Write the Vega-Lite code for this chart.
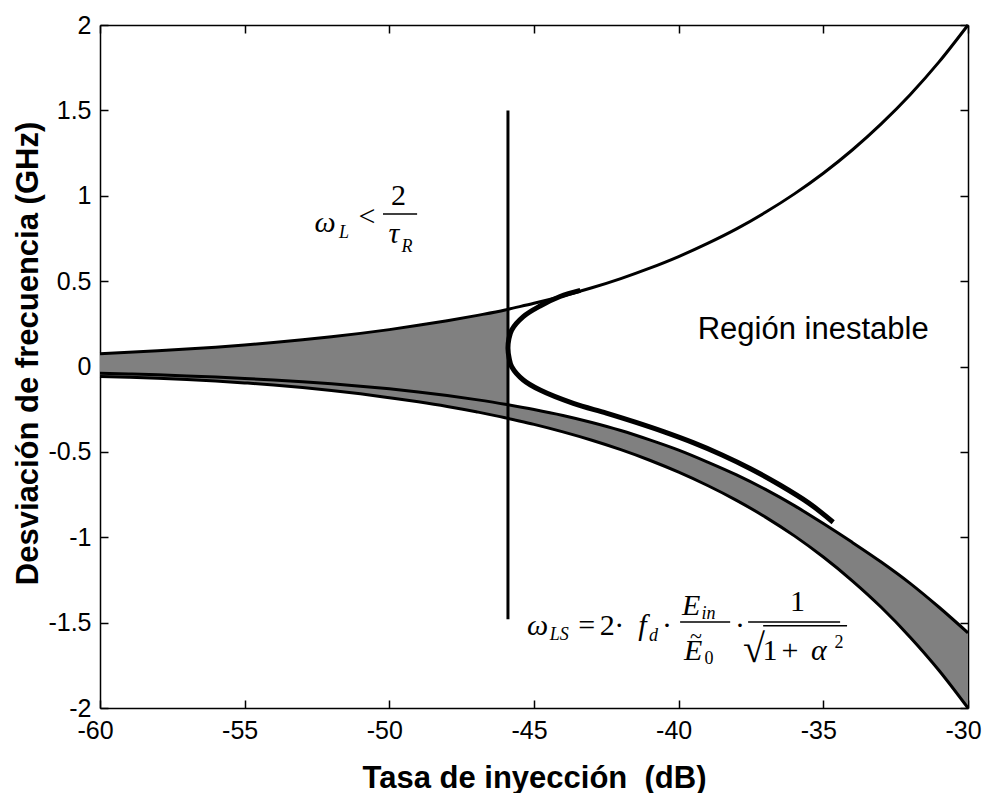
{
  "$schema": "https://vega.github.io/schema/vega-lite/v6.json",
  "width": 868,
  "height": 683,
  "autosize": {"type": "none"},
  "padding": {"left": 100, "top": 25, "right": 17, "bottom": 85},
  "background": "white",
  "config": {
    "view": {"stroke": null},
    "axis": {
      "grid": false,
      "domainColor": "#000",
      "domainWidth": 1.5,
      "tickColor": "#000",
      "tickWidth": 1.5,
      "tickSize": -8,
      "labelColor": "#000",
      "labelFont": "Liberation Sans",
      "labelFontSize": 25,
      "labelFlush": false,
      "labelOverlap": false,
      "titleColor": "#000",
      "titleFont": "Liberation Sans",
      "titleFontWeight": "bold",
      "titleFontSize": 31
    }
  },
  "datasets": {
    "curves": [
      {"x": -60, "upper": 0.075, "inner": -0.040, "outer": -0.058},
      {"x": -59, "upper": 0.083, "inner": -0.044, "outer": -0.063},
      {"x": -58, "upper": 0.092, "inner": -0.049, "outer": -0.069},
      {"x": -57, "upper": 0.102, "inner": -0.055, "outer": -0.076},
      {"x": -56, "upper": 0.113, "inner": -0.062, "outer": -0.085},
      {"x": -55, "upper": 0.126, "inner": -0.070, "outer": -0.096},
      {"x": -54, "upper": 0.140, "inner": -0.079, "outer": -0.108},
      {"x": -53, "upper": 0.156, "inner": -0.089, "outer": -0.123},
      {"x": -52, "upper": 0.174, "inner": -0.101, "outer": -0.140},
      {"x": -51, "upper": 0.194, "inner": -0.115, "outer": -0.160},
      {"x": -50, "upper": 0.216, "inner": -0.131, "outer": -0.183},
      {"x": -49, "upper": 0.241, "inner": -0.149, "outer": -0.207},
      {"x": -48, "upper": 0.268, "inner": -0.170, "outer": -0.234},
      {"x": -47, "upper": 0.298, "inner": -0.194, "outer": -0.265},
      {"x": -46, "upper": 0.331, "inner": -0.221, "outer": -0.300},
      {"x": -45.9, "upper": 0.335, "inner": -0.224, "outer": -0.304},
      {"x": -45, "upper": 0.370, "inner": -0.252, "outer": -0.339},
      {"x": -44, "upper": 0.413, "inner": -0.287, "outer": -0.383},
      {"x": -43, "upper": 0.461, "inner": -0.328, "outer": -0.432},
      {"x": -42, "upper": 0.515, "inner": -0.375, "outer": -0.487},
      {"x": -41, "upper": 0.576, "inner": -0.430, "outer": -0.549},
      {"x": -40, "upper": 0.644, "inner": -0.490, "outer": -0.619},
      {"x": -39, "upper": 0.721, "inner": -0.560, "outer": -0.697},
      {"x": -38, "upper": 0.806, "inner": -0.635, "outer": -0.784},
      {"x": -37, "upper": 0.903, "inner": -0.720, "outer": -0.882},
      {"x": -36, "upper": 1.011, "inner": -0.815, "outer": -0.992},
      {"x": -35, "upper": 1.132, "inner": -0.920, "outer": -1.116},
      {"x": -34, "upper": 1.268, "inner": -1.030, "outer": -1.255},
      {"x": -33, "upper": 1.421, "inner": -1.145, "outer": -1.410},
      {"x": -32, "upper": 1.592, "inner": -1.270, "outer": -1.585},
      {"x": -31, "upper": 1.784, "inner": -1.410, "outer": -1.780},
      {"x": -30, "upper": 2.000, "inner": -1.560, "outer": -2.000}
    ],
    "boundary": [
      {"i": 1, "x": -43.4, "y": 0.446},
      {"i": 2, "x": -44.1, "y": 0.41},
      {"i": 3, "x": -44.79, "y": 0.354},
      {"i": 4, "x": -45.37, "y": 0.292},
      {"i": 5, "x": -45.77, "y": 0.214},
      {"i": 6, "x": -45.87, "y": 0.16},
      {"i": 7, "x": -45.9, "y": 0.107},
      {"i": 8, "x": -45.86, "y": 0.05},
      {"i": 9, "x": -45.77, "y": -0.001},
      {"i": 10, "x": -45.37, "y": -0.079},
      {"i": 11, "x": -44.79, "y": -0.138},
      {"i": 12, "x": -43.64, "y": -0.216},
      {"i": 13, "x": -42.5, "y": -0.273},
      {"i": 14, "x": -41.5, "y": -0.326},
      {"i": 15, "x": -40.5, "y": -0.383},
      {"i": 16, "x": -39.5, "y": -0.446},
      {"i": 17, "x": -38.5, "y": -0.518},
      {"i": 18, "x": -37.5, "y": -0.600},
      {"i": 19, "x": -36.5, "y": -0.694},
      {"i": 20, "x": -35.5, "y": -0.800},
      {"i": 21, "x": -34.66, "y": -0.912}
    ],
    "vline": [{"x": -45.9, "y1": -1.48, "y2": 1.5}],
    "bigItalic": [
      {"x": -52.22, "y": 0.788, "t": "ω"},
      {"x": -49.84, "y": 0.723, "t": "τ"},
      {"x": -44.88, "y": -1.572, "t": "ω"},
      {"x": -41.25, "y": -1.572, "t": "f"},
      {"x": -39.57, "y": -1.456, "t": "E"},
      {"x": -39.50, "y": -1.719, "t": "E"},
      {"x": -35.15, "y": -1.719, "t": "α"}
    ],
    "bigRoman": [
      {"x": -50.77, "y": 0.823, "t": "<"},
      {"x": -49.68, "y": 0.946, "t": "2"},
      {"x": -43.18, "y": -1.572, "t": "="},
      {"x": -42.47, "y": -1.572, "t": "2"},
      {"x": -42.05, "y": -1.572, "t": "·"},
      {"x": -40.40, "y": -1.572, "t": "·"},
      {"x": -37.88, "y": -1.572, "t": "·"},
      {"x": -35.89, "y": -1.43, "t": "1"},
      {"x": -36.84, "y": -1.719, "t": "1"},
      {"x": -36.15, "y": -1.719, "t": "+"}
    ],
    "tildes": [
      {"x": -39.40, "y": -1.62, "t": "~"}
    ],
    "radical": [
      {"x": -37.40, "y": -1.73, "t": "√"}
    ],
    "subItalic": [
      {"x": -51.57, "y": 0.753, "t": "L"},
      {"x": -49.39, "y": 0.671, "t": "R"},
      {"x": -44.13, "y": -1.600, "t": "LS"},
      {"x": -40.87, "y": -1.610, "t": "d"},
      {"x": -38.97, "y": -1.479, "t": "in"}
    ],
    "subRoman": [
      {"x": -38.95, "y": -1.745, "t": "0"},
      {"x": -34.46, "y": -1.650, "t": "2"}
    ],
    "fracLines": [
      {"x": -50.22, "x2": -49.04, "y": 0.893},
      {"x": -39.95, "x2": -38.22, "y": -1.496},
      {"x": -37.60, "x2": -34.42, "y": -1.496},
      {"x": -37.08, "x2": -34.18, "y": -1.518}
    ],
    "region": [{"x": -31.36, "y": 0.161, "t": "Región inestable"}]
  },
  "resolve": {"axis": {"x": "independent", "y": "independent"}},
  "layer": [
    {
      "layer": [
        {
          "data": {"name": "curves"},
          "transform": [{"filter": "datum.x <= -45.9"}],
          "mark": {"type": "area", "color": "#808080", "interpolate": "monotone"},
          "encoding": {
            "x": {"field": "x", "type": "quantitative", "scale": {"domain": [-60, -30], "nice": false, "zero": false},
              "axis": {"orient": "bottom", "values": [-60, -55, -50, -45, -40, -35, -30], "labelExpr": "datum.value + ''", "labelPadding": 18, "labelOffset": -5, "title": "Tasa de inyección\u00a0 (dB)", "titleBaseline": "alphabetic", "titleY": 79, "titleX": 434}},
            "y": {"field": "upper", "type": "quantitative", "scale": {"domain": [-2, 2], "nice": false, "zero": false},
              "axis": {"orient": "left", "values": [-2, -1.5, -1, -0.5, 0, 0.5, 1, 1.5, 2], "labelExpr": "datum.value + ''", "labelPadding": 17, "title": "Desviación de frecuencia (GHz)", "titleBaseline": "alphabetic", "titleAngle": 270, "titleX": -63, "titleY": 328, "titleAlign": "center"}},
            "y2": {"field": "inner"}
          }
        },
        {
          "data": {"name": "curves"},
          "mark": {"type": "area", "color": "#808080", "interpolate": "monotone"},
          "encoding": {
            "x": {"field": "x", "type": "quantitative"},
            "y": {"field": "inner", "type": "quantitative"},
            "y2": {"field": "outer"}
          }
        },
        {
          "data": {"name": "curves"},
          "mark": {"type": "line", "color": "#000", "strokeWidth": 3, "interpolate": "monotone"},
          "encoding": {"x": {"field": "x", "type": "quantitative"}, "y": {"field": "upper", "type": "quantitative"}}
        },
        {
          "data": {"name": "curves"},
          "mark": {"type": "line", "color": "#000", "strokeWidth": 3, "interpolate": "monotone"},
          "encoding": {"x": {"field": "x", "type": "quantitative"}, "y": {"field": "inner", "type": "quantitative"}}
        },
        {
          "data": {"name": "curves"},
          "mark": {"type": "line", "color": "#000", "strokeWidth": 3, "interpolate": "monotone"},
          "encoding": {"x": {"field": "x", "type": "quantitative"}, "y": {"field": "outer", "type": "quantitative"}}
        },
        {
          "data": {"name": "boundary"},
          "mark": {"type": "line", "color": "#000", "strokeWidth": 5, "interpolate": "catmull-rom"},
          "encoding": {"x": {"field": "x", "type": "quantitative"}, "y": {"field": "y", "type": "quantitative"}, "order": {"field": "i", "type": "quantitative"}}
        },
        {
          "data": {"name": "fracLines"},
          "mark": {"type": "rule", "color": "#000", "strokeWidth": 1.5},
          "encoding": {"x": {"field": "x", "type": "quantitative"}, "x2": {"field": "x2"}, "y": {"field": "y", "type": "quantitative"}}
        },
        {
          "data": {"name": "bigItalic"},
          "mark": {"type": "text", "font": "Liberation Serif", "fontStyle": "italic", "fontSize": 30, "align": "center", "baseline": "alphabetic", "color": "#000"},
          "encoding": {"x": {"field": "x", "type": "quantitative"}, "y": {"field": "y", "type": "quantitative"}, "text": {"field": "t"}}
        },
        {
          "data": {"name": "bigRoman"},
          "mark": {"type": "text", "font": "Liberation Serif", "fontSize": 30, "align": "center", "baseline": "alphabetic", "color": "#000"},
          "encoding": {"x": {"field": "x", "type": "quantitative"}, "y": {"field": "y", "type": "quantitative"}, "text": {"field": "t"}}
        },
        {
          "data": {"name": "tildes"},
          "mark": {"type": "text", "font": "Liberation Serif", "fontSize": 22, "align": "center", "baseline": "alphabetic", "color": "#000"},
          "encoding": {"x": {"field": "x", "type": "quantitative"}, "y": {"field": "y", "type": "quantitative"}, "text": {"field": "t"}}
        },
        {
          "data": {"name": "radical"},
          "mark": {"type": "text", "font": "Liberation Serif", "fontSize": 40, "align": "center", "baseline": "alphabetic", "color": "#000"},
          "encoding": {"x": {"field": "x", "type": "quantitative"}, "y": {"field": "y", "type": "quantitative"}, "text": {"field": "t"}}
        },
        {
          "data": {"name": "subItalic"},
          "mark": {"type": "text", "font": "Liberation Serif", "fontStyle": "italic", "fontSize": 18, "align": "center", "baseline": "alphabetic", "color": "#000"},
          "encoding": {"x": {"field": "x", "type": "quantitative"}, "y": {"field": "y", "type": "quantitative"}, "text": {"field": "t"}}
        },
        {
          "data": {"name": "subRoman"},
          "mark": {"type": "text", "font": "Liberation Serif", "fontSize": 18, "align": "center", "baseline": "alphabetic", "color": "#000"},
          "encoding": {"x": {"field": "x", "type": "quantitative"}, "y": {"field": "y", "type": "quantitative"}, "text": {"field": "t"}}
        },
        {
          "data": {"name": "region"},
          "mark": {"type": "text", "font": "Liberation Sans", "fontSize": 31, "align": "right", "baseline": "alphabetic", "color": "#000"},
          "encoding": {"x": {"field": "x", "type": "quantitative"}, "y": {"field": "y", "type": "quantitative"}, "text": {"field": "t"}}
        }
      ]
    },
    {
      "data": {"name": "vline"},
      "mark": {"type": "rule", "color": "#000", "strokeWidth": 3},
      "encoding": {
        "x": {"field": "x", "type": "quantitative",
          "axis": {"orient": "top", "values": [-60, -55, -50, -45, -40, -35, -30], "labels": false, "title": null}},
        "y": {"field": "y1", "type": "quantitative",
          "axis": {"orient": "right", "values": [-2, -1.5, -1, -0.5, 0, 0.5, 1, 1.5, 2], "labels": false, "title": null}},
        "y2": {"field": "y2"}
      }
    }
  ]
}
